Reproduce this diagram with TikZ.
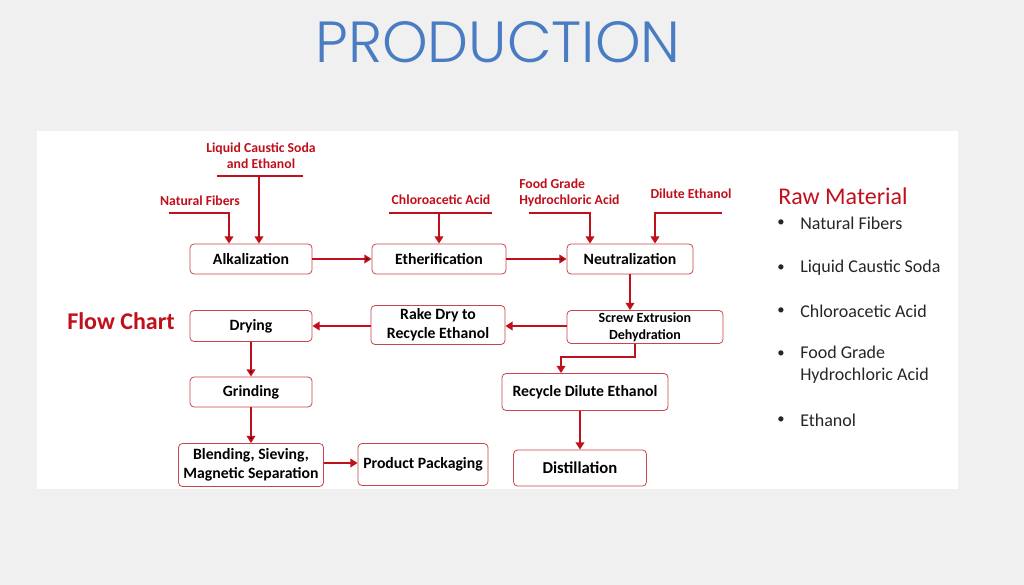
\documentclass[tikz,border=0pt]{standalone}
\usepackage{fontspec}
\setmainfont{Carlito}
\IfFontExistsTF{Poppins Light}{\newfontfamily\titlefont{Poppins Light}}{\newfontfamily\titlefont{Poppins}}
\usetikzlibrary{arrows.meta,positioning}
\definecolor{bggray}{RGB}{240,240,240}
\definecolor{titleblue}{RGB}{74,124,196}
\definecolor{flowred}{RGB}{192,16,28}
\definecolor{boxred}{RGB}{200,70,75}
\definecolor{listgray}{RGB}{38,38,38}
\tikzset{
  box/.style={draw=boxred, fill=white, rounded corners=3pt, line width=0.6pt, align=center,
    inner sep=1pt, font=\fontsize{11.8}{14}\selectfont\bfseries},
  feedlabel/.style={text=flowred, inner sep=0pt, font=\fontsize{10.3}{12}\selectfont\bfseries},
  feed/.style={draw=flowred, line width=2pt},
  arr/.style={draw=flowred, line width=2pt, -{Triangle[length=5.5pt,width=6.5pt]}},
  bul/.style={text=listgray, inner sep=0pt, font=\fontsize{11}{13}\selectfont},
  item/.style={text=listgray, inner sep=0pt, anchor=west, align=left, font=\fontsize{13.5}{16.5}\selectfont}
}
\begin{document}
\begin{tikzpicture}[x=0.75pt,y=-0.75pt]
      \fill[bggray] (0,0) rectangle (1024,585);
      \fill[white] (37,131) rectangle (958,489);
      \node[text=titleblue, font=\titlefont\fontsize{43.5}{43.5}\selectfont] (title) at (498,42) {PRODUCTION};
      \node[box, minimum width=91.5pt, minimum height=22.5pt] (alk) at (251,259) {Alkalization};
      \node[box, minimum width=100.5pt, minimum height=22.5pt] (eth) at (439,259) {Etherification};
      \node[box, minimum width=94.5pt, minimum height=22.5pt] (neu) at (630,259) {Neutralization};
      \node[box, minimum width=117pt, minimum height=24.75pt, font=\fontsize{10.5}{12.75}\selectfont\bfseries] (scr) at (645,327) {Screw Extrusion\\Dehydration};
      \node[box, minimum width=100.5pt, minimum height=29.25pt] (rake) at (438,325) {Rake Dry to\\Recycle Ethanol};
      \node[box, minimum width=91.5pt, minimum height=23.25pt] (dry) at (251,326) {Drying};
      \node[box, minimum width=91.5pt, minimum height=22.5pt] (grind) at (251,392) {Grinding};
      \node[box, minimum width=108.75pt, minimum height=32.25pt] (blend) at (251,465) {Blending, Sieving,\\Magnetic Separation};
      \node[box, minimum width=97.5pt, minimum height=31.5pt] (pack) at (423,464.5) {Product Packaging};
      \node[box, minimum width=124.5pt, minimum height=27.75pt] (rec) at (585,392) {Recycle Dilute Ethanol};
      \node[box, minimum width=99.75pt, minimum height=27pt, font=\fontsize{12.5}{14}\selectfont\bfseries] (dist) at (580,468) {Distillation};
      \node[feedlabel] (nf) at (200,201) {Natural Fibers};
      \node[feedlabel, align=center] (lcs) at (261,156) {Liquid Caustic Soda\\and Ethanol};
      \node[feedlabel] (ca) at (441,200) {Chloroacetic Acid};
      \node[feedlabel, align=left, anchor=west] (hcl) at (519,193) {Food Grade\\Hydrochloric Acid};
      \node[feedlabel] (de) at (691,194) {Dilute Ethanol};
      \coordinate (nfa) at (169,213);
      \coordinate (nfb) at (229,213);
      \coordinate (lcsa) at (217,176);
      \coordinate (lcsb) at (303,176);
      \coordinate (lcsm) at (259,176);
      \coordinate (caa) at (389,213);
      \coordinate (cab) at (492,213);
      \coordinate (cam) at (439,213);
      \coordinate (hcla) at (529,213);
      \coordinate (hclb) at (590,213);
      \coordinate (dea) at (722,213);
      \coordinate (deb) at (655,213);
      \coordinate (bend) at (635,357);
      \coordinate (bendb) at (561,357);
      \draw[arr] (nfa) -- (nfb) -- (nfb |- alk.north);
      \draw[feed] (lcsa) -- (lcsb);
      \draw[arr] (lcsm) -- (lcsm |- alk.north);
      \draw[feed] (caa) -- (cab);
      \draw[arr] (cam) -- (cam |- eth.north);
      \draw[arr] (hcla) -- (hclb) -- (hclb |- neu.north);
      \draw[arr] (dea) -- (deb) -- (deb |- neu.north);
      \path[arr] (alk) edge (eth);
      \path[arr] (eth) edge (neu);
      \draw[arr] (neu.south) -- (neu.south |- scr.north);
      \draw[arr] (scr.west |- 0,326) -- (rake.east |- 0,326);
      \draw[arr] (rake.west |- 0,326) -- (dry.east |- 0,326);
      \path[arr] (dry) edge (grind);
      \path[arr] (grind) edge (blend);
      \draw[arr] (blend.east |- 0,463) -- (pack.west |- 0,463);
      \draw[arr] (scr.south -| bend) -- (bend) -- (bendb) -- (bendb |- rec.north);
      \draw[arr] (rec.south -| dist.north) -- (dist.north);
      \node[text=flowred, font=\fontsize{18}{20}\selectfont\bfseries] (fc) at (121,321) {Flow Chart};
      \node[text=flowred, inner sep=0pt, anchor=west, font=\fontsize{18}{20}\selectfont] (raw) at (778,196) {Raw Material};
      \node[bul] (d1) at (781,223) {\textbullet};
      \node[item] (r1) at (800,223) {Natural Fibers};
      \node[bul] (d2) at (781,268) {\textbullet};
      \node[item] (r2) at (800,268) {Liquid Caustic Soda};
      \node[bul] (d3) at (781,311) {\textbullet};
      \node[item] (r3) at (800,311) {Chloroacetic Acid};
      \node[bul] (d4) at (781,354) {\textbullet};
      \node[item] (r4) at (800,365) {Food Grade\\Hydrochloric Acid};
      \node[bul] (d5) at (781,420) {\textbullet};
      \node[item] (r5) at (800,420) {Ethanol};
\end{tikzpicture}
\end{document}
